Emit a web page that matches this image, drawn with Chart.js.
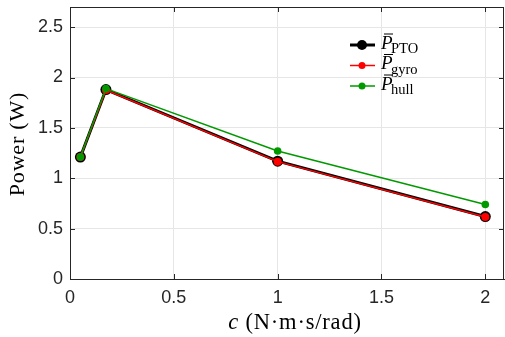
<!DOCTYPE html>
<html>
<head>
<meta charset="utf-8">
<script src="https://cdn.jsdelivr.net/npm/chart.js@4"></script>
<style>
  html, body { margin: 0; padding: 0; background: #fff; }
  #wrap { width: 505px; height: 337px; }
</style>
</head>
<body>
<div id="wrap"><canvas id="powerChart"></canvas></div>
<script>
// damping coefficient c (N·m·s/rad)
const cValues = [0.05, 0.173, 1, 2];
// mean power (W)
const pPTO  = [1.21, 1.88, 1.17, 0.62];
const pGyro = [1.21, 1.875, 1.165, 0.615];
const pHull = [1.21, 1.89, 1.27, 0.74];

const xTicks = [0, 0.5, 1, 1.5, 2];
const yTicks = [0, 0.5, 1, 1.5, 2, 2.5];

const legendEntries = [
    { sub: 'PTO',  color: '#000000', width: 3,   radius: 5 },
    { sub: 'gyro', color: '#ff0000', width: 1.5, radius: 3.5 },
    { sub: 'hull', color: '#009900', width: 1.5, radius: 3.5 }
];

const AXIS = '#262626';
const SERIF = '"Liberation Serif", "DejaVu Serif", serif';
const SANS = '"Liberation Sans", Arial, sans-serif';

function pts(ys) {
    return cValues.map((c, i) => ({ x: c, y: ys[i] }));
}

// MATLAB style box, inward ticks, legend and axis labels
const matlabDecor = {
    id: 'matlabDecor',
    afterDraw(chart) {
        const ctx = chart.ctx;
        const a = chart.chartArea;
        const xs = chart.scales.x, ys = chart.scales.y;
        ctx.save();
        ctx.strokeStyle = AXIS;
        ctx.lineWidth = 1;
        ctx.strokeRect(a.left + 0.5, a.top + 0.5, a.right - a.left - 1, a.bottom - a.top);
        ctx.beginPath();
        xTicks.forEach(v => {
            const px = Math.round(xs.getPixelForValue(v)) + 0.5;
            ctx.moveTo(px, a.bottom); ctx.lineTo(px, a.bottom - 5);
            ctx.moveTo(px, a.top); ctx.lineTo(px, a.top + 5);
        });
        yTicks.forEach(v => {
            const py = Math.round(ys.getPixelForValue(v)) + 0.5;
            ctx.moveTo(a.left, py); ctx.lineTo(a.left + 5, py);
            ctx.moveTo(a.right, py); ctx.lineTo(a.right - 5, py);
        });
        ctx.stroke();

        // legend
        const rowsY = [45, 65.5, 86];
        legendEntries.forEach((e, i) => {
            const y = rowsY[i];
            ctx.strokeStyle = e.color;
            ctx.lineWidth = e.width;
            ctx.beginPath();
            ctx.moveTo(350, y); ctx.lineTo(375, y);
            ctx.stroke();
            ctx.fillStyle = e.color;
            ctx.beginPath();
            ctx.arc(362, y, e.radius, 0, Math.PI * 2);
            ctx.fill();
            ctx.fillStyle = '#000';
            ctx.textBaseline = 'alphabetic';
            ctx.textAlign = 'left';
            ctx.font = 'italic 19px ' + SERIF;
            ctx.fillText('P', 381, y + 3.5);
            ctx.strokeStyle = '#000';
            ctx.lineWidth = 1;
            ctx.beginPath();
            ctx.moveTo(384, y - 11); ctx.lineTo(393, y - 11);
            ctx.stroke();
            ctx.font = '14.5px ' + SERIF;
            ctx.fillText(e.sub, 391, y + 8);
        });

        // x axis title
        ctx.fillStyle = '#000';
        ctx.textBaseline = 'alphabetic';
        ctx.letterSpacing = '0.8px';
        ctx.font = 'italic 22.5px ' + SERIF;
        const cW = ctx.measureText('c').width;
        ctx.font = '22.5px ' + SERIF;
        const rest = ' (N·m·s/rad)';
        const rW = ctx.measureText(rest).width;
        const cx = 295;
        let x0 = cx - (cW + rW) / 2;
        ctx.font = 'italic 22.5px ' + SERIF;
        ctx.fillText('c', x0, 329);
        ctx.font = '22.5px ' + SERIF;
        ctx.fillText(rest, x0 + cW, 329);

        // y axis title
        ctx.translate(24, (a.top + a.bottom) / 2 + 1);
        ctx.rotate(-Math.PI / 2);
        ctx.textAlign = 'center';
        ctx.font = '22px ' + SERIF;
        ctx.fillText('Power (W)', 0, 0);
        ctx.restore();
    }
};

new Chart(document.getElementById('powerChart'), {
    type: 'line',
    data: {
        datasets: [
            {
                label: 'P_PTO',
                data: pts(pPTO),
                borderColor: '#000000',
                backgroundColor: '#000000',
                borderWidth: 3,
                pointRadius: 5.5,
                pointBorderWidth: 0,
                order: 3
            },
            {
                label: 'P_gyro',
                data: pts(pGyro),
                borderColor: '#ff0000',
                backgroundColor: '#ff0000',
                borderWidth: 1.5,
                pointRadius: 4,
                pointBorderWidth: 0,
                order: 2
            },
            {
                label: 'P_hull',
                data: pts(pHull),
                borderColor: '#009900',
                backgroundColor: '#009900',
                borderWidth: 1.5,
                pointRadius: 3.8,
                pointBorderWidth: 0,
                order: 1
            }
        ]
    },
    options: {
        responsive: true,
        maintainAspectRatio: false,
        animation: false,
        layout: { autoPadding: false, padding: { top: 7, right: 1, left: 0, bottom: 0 } },
        plugins: {
            legend: { display: false },
            tooltip: { enabled: false }
        },
        scales: {
            x: {
                type: 'linear',
                min: 0,
                max: 2.09,
                afterBuildTicks: s => { s.ticks = xTicks.map(v => ({ value: v })); },
                afterFit: s => { s.height = 58; s.paddingLeft = 0; s.paddingRight = 0; },
                grid: { color: '#e6e6e6', drawTicks: false },
                border: { color: AXIS },
                ticks: {
                    color: AXIS,
                    padding: 8,
                    font: { family: SANS, size: 18 },
                    callback: v => String(v)
                }
            },
            y: {
                min: 0,
                max: 2.7,
                afterBuildTicks: s => { s.ticks = yTicks.map(v => ({ value: v })); },
                afterFit: s => { s.width = 70; s.paddingTop = 0; s.paddingBottom = 0; },
                grid: { color: '#e6e6e6', drawTicks: false },
                border: { color: AXIS },
                ticks: {
                    color: AXIS,
                    padding: 7,
                    font: { family: SANS, size: 18 },
                    callback: v => String(v)
                }
            }
        }
    },
    plugins: [matlabDecor]
});
</script>
</body>
</html>
